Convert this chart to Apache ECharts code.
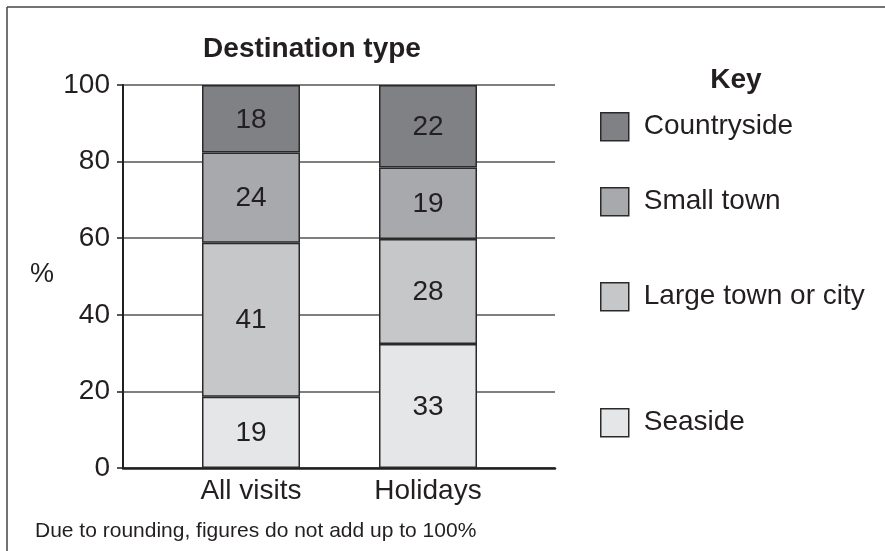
<!DOCTYPE html>
<html>
<head>
<meta charset="utf-8">
<script src="https://cdn.jsdelivr.net/npm/echarts@6/dist/echarts.min.js"></script>
<style>
html,body{margin:0;padding:0;background:#fff;}
#chart{width:885px;height:551px;}
</style>
</head>
<body>
<div id="chart"></div>
<script>
// ---- data ----
const categories = ['All visits', 'Holidays'];
const seriesNames = ['Seaside', 'Large town or city', 'Small town', 'Countryside'];
const seaside = [19, 33];
const largeTown = [41, 28];
const smallTown = [24, 19];
const countryside = [18, 22];
const yTicks = [0, 20, 40, 60, 80, 100];

const TXT = '#231f20';
const FONT = 'Liberation Sans, Arial, Helvetica, sans-serif';
const colors = ['#e5e6e8', '#c6c7c9', '#a8a9ad', '#808185'];
const rawSeries = [seaside, largeTown, smallTown, countryside];
// bars are drawn as shares of each column's total (figures add up to 102)
const totals = categories.map((c, i) => rawSeries.reduce((s, arr) => s + arr[i], 0));

const chart = echarts.init(document.getElementById('chart'));

const series = rawSeries.map((arr, k) => ({
  name: seriesNames[k],
  type: 'bar',
  stack: 'dest',
  xAxisIndex: 1,
  yAxisIndex: 1,
  barWidth: 98,
  data: arr.map((v, i) => ({ value: v / totals[i] * 100, raw: v })),
  itemStyle: { color: colors[k], borderColor: '#2a2a2a', borderWidth: 1.5 },
  label: {
    show: true, position: 'inside', fontSize: 28, fontFamily: FONT, color: TXT,
    offset: [0, 1],
    formatter: p => String(p.data.raw)
  },
  emphasis: { disabled: true }
}));

const legendTops = [112, 187, 282, 408];
const legendOrder = ['Countryside', 'Small town', 'Large town or city', 'Seaside'];
const legends = legendOrder.map((n, i) => ({
  data: [n],
  left: 600,
  top: legendTops[i],
  padding: 0,
  orient: 'vertical',
  icon: 'rect',
  itemWidth: 28,
  itemHeight: 28,
  selectedMode: false,
  itemStyle: { borderColor: '#2a2a2a', borderWidth: 1.5 },
  textStyle: { fontSize: 28, fontFamily: FONT, color: TXT, padding: [0, 0, 0, 10] }
}));

chart.setOption({
  animation: false,
  backgroundColor: '#fff',
  title: [
    { text: 'Destination type', left: 312, top: 35, textAlign: 'center', padding: 0,
      textStyle: { fontSize: 28, fontWeight: 'bold', fontFamily: FONT, color: TXT } },
    { text: 'Key', left: 736, top: 66, textAlign: 'center', padding: 0,
      textStyle: { fontSize: 28, fontWeight: 'bold', fontFamily: FONT, color: TXT } }
  ],
  legend: legends,
  grid: [
    { left: 123, top: 85, width: 432, height: 383, outerBoundsMode: 'none', containLabel: false },
    { left: 162.5, top: 85, width: 354, height: 383, outerBoundsMode: 'none', containLabel: false }
  ],
  xAxis: [
    { type: 'category', gridIndex: 0, data: ['', ''],
      axisLine: { show: true, lineStyle: { color: TXT, width: 2.5 } },
      axisTick: { show: false }, axisLabel: { show: false }, splitLine: { show: false } },
    { type: 'category', gridIndex: 1, data: categories,
      axisLine: { show: false }, axisTick: { show: false },
      axisLabel: { fontSize: 28, fontFamily: FONT, color: TXT, margin: 9 } }
  ],
  yAxis: [
    { type: 'value', gridIndex: 0, min: yTicks[0], max: yTicks[yTicks.length - 1], interval: 20,
      axisLine: { show: true, lineStyle: { color: TXT, width: 2 } },
      axisTick: { show: true, length: 6, lineStyle: { color: TXT, width: 1.5 } },
      axisLabel: { fontSize: 28, fontFamily: FONT, color: TXT, margin: 13 },
      splitLine: { show: true, lineStyle: { color: '#555', width: 1.5 } } },
    { type: 'value', gridIndex: 1, min: 0, max: 100, show: false,
      splitLine: { show: false } }
  ],
  series: series,
  graphic: [
    { type: 'line', shape: { x1: 7, y1: 7, x2: 885, y2: 7 }, style: { stroke: '#444', lineWidth: 1.5 }, silent: true },
    { type: 'line', shape: { x1: 7, y1: 7, x2: 7, y2: 551 }, style: { stroke: '#444', lineWidth: 1.5 }, silent: true },
    { type: 'text', x: 42, y: 275, style: { text: '%', font: '27px ' + FONT, fill: TXT, textAlign: 'center', textVerticalAlign: 'middle' } },
    { type: 'text', x: 35, y: 531, style: { text: 'Due to rounding, figures do not add up to 100%', font: '21px ' + FONT, fill: TXT, textAlign: 'left', textVerticalAlign: 'middle' } }
  ]
});
</script>
</body>
</html>
